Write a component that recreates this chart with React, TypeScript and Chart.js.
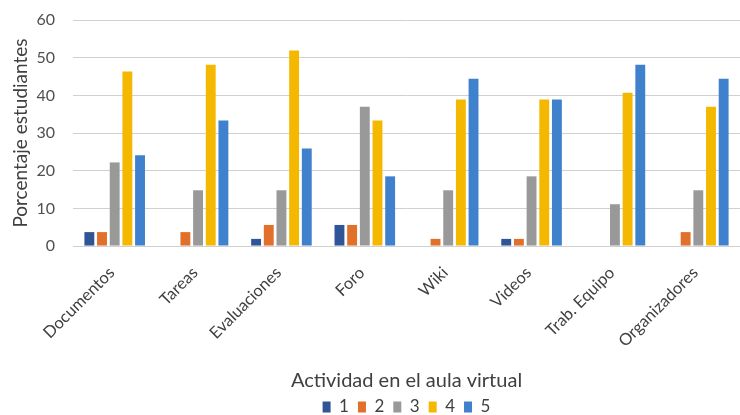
import React, { useEffect, useRef } from "react";
import { Chart, registerables } from "chart.js";

Chart.register(...registerables);

const categories = ["Documentos", "Tareas", "Evaluaciones", "Foro", "Wiki", "Videos", "Trab. Equipo", "Organizadores"];
const seriesNames = ["1", "2", "3", "4", "5"];
const s1 = [3.7, 0, 1.9, 5.6, 0, 1.9, 0, 0];
const s2 = [3.7, 3.7, 5.6, 5.6, 1.9, 1.9, 0, 3.7];
const s3 = [22.2, 14.8, 14.8, 37.0, 14.8, 18.5, 11.1, 14.8];
const s4 = [46.3, 48.1, 51.9, 33.3, 38.9, 38.9, 40.7, 37.0];
const s5 = [24.1, 33.3, 25.9, 18.5, 44.4, 38.9, 48.1, 44.4];
const seriesColors = ["#2F5597", "#E0702A", "#999999", "#F5B800", "#3F81CC"];
const yTicks = [0, 10, 20, 30, 40, 50, 60];

const FONT = "Lato, 'Open Sans', sans-serif";

export default function App() {
  const ref = useRef<HTMLCanvasElement | null>(null);
  useEffect(() => {
    if (!ref.current) return;
    const data = [s1, s2, s3, s4, s5];
    const chart = new Chart(ref.current, {
      type: "bar",
      data: {
        labels: categories,
        datasets: data.map((d, i) => ({
          label: seriesNames[i],
          data: d,
          backgroundColor: seriesColors[i],
          borderWidth: 0,
          barPercentage: 0.78,
          categoryPercentage: 0.76,
        })),
      },
      options: {
        animation: false,
        responsive: false,
        maintainAspectRatio: false,
        layout: { padding: { top: 20, right: 0, left: 9, bottom: -10.5 } },
        plugins: {
          tooltip: { enabled: false },
          legend: {
            position: "bottom",
            fullSize: false,
            labels: {
              boxWidth: 8,
              boxHeight: 11,
              padding: 9,
              color: "#404040",
              font: { family: FONT, size: 17 },
            },
          },
        },
        scales: {
          x: {
            afterFit: (s: any) => {
              s.paddingLeft = 0;
              s.paddingRight = 0;
            },
            grid: { display: false, drawTicks: false },
            border: { display: true, color: "#d0d0d0" },
            ticks: {
              maxRotation: 45,
              minRotation: 45,
              color: "#404040",
              padding: 17,
              labelOffset: -3,
              font: { family: FONT, size: 16.5 },
            },
            title: {
              display: true,
              text: "Actividad en el aula virtual",
              color: "#404040",
              padding: { top: 1, bottom: -3.5 },
              font: { family: FONT, size: 20 },
            },
          },
          y: {
            min: 0,
            max: 60,
            afterBuildTicks: (axis: any) => {
              axis.ticks = yTicks.map((v) => ({ value: v }));
            },
            afterFit: (axis: any) => {
              axis.width = 64;
              axis.paddingTop = 10;
              axis.paddingBottom = 10;
            },
            grid: { color: "#d0d0d0", drawTicks: false },
            border: { display: false },
            ticks: {
              color: "#505050",
              padding: 18,
              font: { family: FONT, size: 16 },
            },
            title: {
              display: true,
              text: "Porcentaje estudiantes",
              color: "#404040",
              padding: { top: 0, bottom: 6 },
              font: { family: FONT, size: 19 },
            },
          },
        },
      },
    });
    return () => chart.destroy();
  }, []);
  return (
    <div style={{ position: "fixed", left: 0, top: 0, width: 740, height: 415, background: "#fff" }}>
      <canvas ref={ref} width={740} height={415} />
    </div>
  );
}
